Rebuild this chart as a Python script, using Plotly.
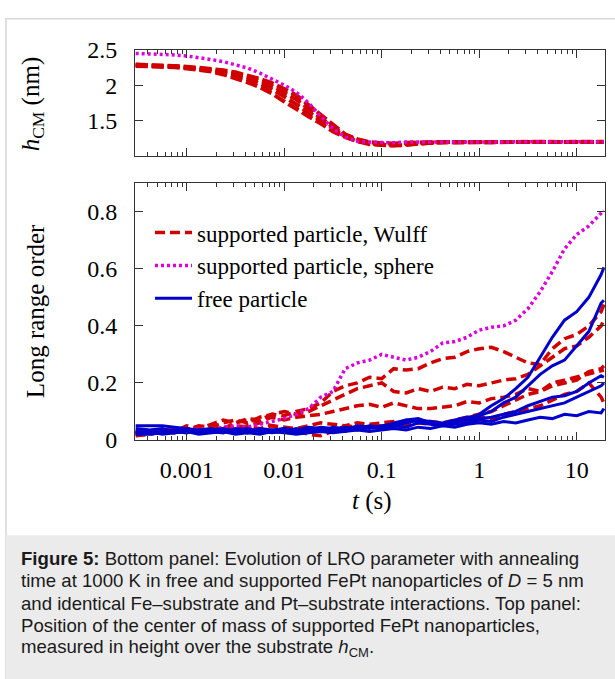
import plotly.graph_objects as go

# ---------------- data ----------------
t = [0.0003, 0.000422, 0.000562, 0.00075, 0.001, 0.00133, 0.00178, 0.00237, 0.00316, 0.00422,
     0.00562, 0.0075, 0.01, 0.0133, 0.0178, 0.0237, 0.0316, 0.0422, 0.0562, 0.075,
     0.1, 0.133, 0.178, 0.237, 0.316, 0.422, 0.562, 0.75, 1.0, 1.33,
     1.78, 2.37, 3.16, 4.22, 5.62, 7.5, 10.0, 13.3, 17.8, 19.0]

# top panel: h_CM (nm)
h_sphere = [2.445, 2.44, 2.435, 2.425, 2.41, 2.39, 2.36, 2.33, 2.29, 2.24, 2.17, 2.09, 2.0, 1.9, 1.75, 1.56,
            1.39, 1.27, 1.21, 1.2, 1.19, 1.19, 1.2, 1.2, 1.205, 1.2, 1.2, 1.205, 1.2, 1.2, 1.205, 1.2,
            1.2, 1.205, 1.2, 1.205, 1.2, 1.205, 1.205, 1.205]
h_wulff_a = [2.29, 2.285, 2.28, 2.27, 2.26, 2.245, 2.23, 2.21, 2.18, 2.14, 2.09, 2.03, 1.95, 1.86, 1.72, 1.58,
             1.44, 1.31, 1.24, 1.2, 1.185, 1.18, 1.19, 1.2, 1.2, 1.195, 1.2, 1.205, 1.2, 1.195, 1.2, 1.2,
             1.205, 1.2, 1.2, 1.205, 1.2, 1.205, 1.2, 1.2]
h_wulff_b = [2.285, 2.28, 2.275, 2.265, 2.25, 2.235, 2.215, 2.19, 2.16, 2.11, 2.06, 1.99, 1.9, 1.8, 1.67, 1.54,
             1.41, 1.3, 1.23, 1.19, 1.17, 1.165, 1.175, 1.19, 1.2, 1.2, 1.195, 1.2, 1.205, 1.2, 1.2, 1.195,
             1.2, 1.205, 1.2, 1.2, 1.205, 1.2, 1.205, 1.205]
h_wulff_c = [2.28, 2.275, 2.27, 2.26, 2.245, 2.225, 2.2, 2.17, 2.13, 2.08, 2.02, 1.94, 1.84, 1.73, 1.61, 1.5,
             1.38, 1.28, 1.21, 1.18, 1.16, 1.155, 1.165, 1.185, 1.195, 1.2, 1.2, 1.2, 1.195, 1.2, 1.205, 1.2,
             1.2, 1.2, 1.205, 1.2, 1.2, 1.205, 1.2, 1.2]
h_wulff_d = [2.27, 2.265, 2.26, 2.25, 2.235, 2.215, 2.19, 2.15, 2.1, 2.04, 1.97, 1.88, 1.77, 1.66, 1.56, 1.46,
             1.35, 1.27, 1.21, 1.17, 1.155, 1.15, 1.16, 1.18, 1.19, 1.2, 1.2, 1.195, 1.2, 1.2, 1.2, 1.205,
             1.2, 1.2, 1.2, 1.205, 1.2, 1.2, 1.205, 1.2]
h_wulff = [h_wulff_a, h_wulff_b, h_wulff_c, h_wulff_d]

# bottom panel: long range order
lro_sphere = [0.025, 0.03, 0.028, 0.035, 0.03, 0.04, 0.035, 0.045, 0.05, 0.045, 0.055, 0.065, 0.075, 0.09,
              0.11, 0.15, 0.17, 0.25, 0.27, 0.28, 0.30, 0.29, 0.28, 0.29, 0.31, 0.34, 0.345, 0.36, 0.385,
              0.395, 0.40, 0.42, 0.46, 0.52, 0.59, 0.67, 0.72, 0.75, 0.795, 0.805]
lro_wulff_1 = [0.02, 0.025, 0.03, 0.04, 0.035, 0.05, 0.045, 0.06, 0.07, 0.06, 0.08, 0.09, 0.085,
               0.1, 0.11, 0.13, 0.17, 0.19, 0.2, 0.22, 0.215, 0.25, 0.245, 0.25, 0.27, 0.285, 0.29, 0.31,
               0.32, 0.325, 0.31, 0.29, 0.27, 0.265, 0.32, 0.355, 0.37, 0.4, 0.45, 0.475]
lro_wulff_2 = [0.03, 0.02, 0.035, 0.03, 0.05, 0.04, 0.055, 0.07, 0.06, 0.075, 0.07, 0.09, 0.1,
               0.09, 0.1, 0.12, 0.14, 0.16, 0.18, 0.19, 0.2, 0.17, 0.165, 0.18, 0.17, 0.185, 0.18, 0.195,
               0.19, 0.2, 0.21, 0.215, 0.23, 0.26, 0.29, 0.32, 0.33, 0.36, 0.4, 0.42]
lro_wulff_3 = [0.02, 0.03, 0.025, 0.04, 0.03, 0.045, 0.05, 0.04, 0.06, 0.07, 0.065, 0.08, 0.07,
               0.08, 0.085, 0.09, 0.1, 0.11, 0.12, 0.125, 0.115, 0.13, 0.12, 0.11, 0.11, 0.115, 0.12, 0.135,
               0.13, 0.145, 0.15, 0.16, 0.18, 0.17, 0.19, 0.2, 0.21, 0.24, 0.25, 0.26]
lro_wulff_4 = [0.03, 0.035, 0.025, 0.03, 0.04, 0.035, 0.03, 0.045, 0.04, 0.05, 0.06, 0.05, 0.04,
               0.03, 0.02, 0.015, 0.03, 0.05, 0.06, 0.055, 0.06, 0.065, 0.06, 0.07, 0.065, 0.06, 0.07, 0.08,
               0.09, 0.1, 0.12, 0.14, 0.16, 0.17, 0.2, 0.21, 0.22, 0.23, 0.24, 0.245]
lro_wulff_5 = [0.015, 0.02, 0.03, 0.025, 0.035, 0.03, 0.04, 0.035, 0.05, 0.045, 0.04, 0.05, 0.045,
               0.04, 0.05, 0.06, 0.055, 0.05, 0.045, 0.04, 0.05, 0.045, 0.05, 0.06, 0.055, 0.05, 0.06, 0.07,
               0.08, 0.075, 0.09, 0.1, 0.11, 0.12, 0.14, 0.16, 0.17, 0.2, 0.15, 0.13]
lro_free_1 = [0.05, 0.05, 0.05, 0.045, 0.04, 0.035, 0.04, 0.03, 0.035, 0.04, 0.03, 0.035, 0.04,
              0.035, 0.045, 0.04, 0.035, 0.045, 0.04, 0.05, 0.045, 0.06, 0.07, 0.065, 0.06, 0.055, 0.06, 0.075,
              0.09, 0.12, 0.145, 0.18, 0.22, 0.29, 0.36, 0.42, 0.45, 0.5, 0.58, 0.605]
lro_free_2 = [0.03, 0.025, 0.03, 0.035, 0.04, 0.03, 0.035, 0.04, 0.03, 0.025, 0.035, 0.03, 0.04,
              0.03, 0.035, 0.045, 0.04, 0.035, 0.05, 0.045, 0.04, 0.05, 0.06, 0.07, 0.065, 0.06, 0.07, 0.08,
              0.085, 0.1, 0.13, 0.15, 0.19, 0.23, 0.26, 0.28, 0.33, 0.38, 0.48, 0.49]
lro_free_3 = [0.02, 0.02, 0.025, 0.03, 0.025, 0.035, 0.03, 0.025, 0.04, 0.035, 0.03, 0.025, 0.03,
              0.04, 0.03, 0.035, 0.04, 0.03, 0.045, 0.04, 0.05, 0.055, 0.07, 0.075, 0.06, 0.055, 0.065, 0.07,
              0.075, 0.08, 0.09, 0.1, 0.12, 0.135, 0.15, 0.155, 0.17, 0.2, 0.225, 0.22]
lro_free_4 = [0.04, 0.035, 0.04, 0.03, 0.035, 0.025, 0.03, 0.035, 0.025, 0.03, 0.04, 0.035, 0.03,
              0.025, 0.04, 0.03, 0.045, 0.04, 0.035, 0.045, 0.04, 0.05, 0.045, 0.06, 0.055, 0.05, 0.055, 0.06,
              0.07, 0.065, 0.08, 0.09, 0.1, 0.11, 0.12, 0.13, 0.15, 0.17, 0.19, 0.2]
lro_free_5 = [0.025, 0.03, 0.02, 0.025, 0.03, 0.02, 0.025, 0.03, 0.02, 0.025, 0.02, 0.03, 0.025,
              0.02, 0.025, 0.03, 0.025, 0.03, 0.035, 0.03, 0.035, 0.04, 0.035, 0.045, 0.04, 0.05, 0.045, 0.055,
              0.06, 0.055, 0.065, 0.06, 0.07, 0.08, 0.075, 0.09, 0.085, 0.1, 0.095, 0.11]
lro_wulff = [lro_wulff_1, lro_wulff_2, lro_wulff_3, lro_wulff_4, lro_wulff_5]
lro_free = [lro_free_1, lro_free_2, lro_free_3, lro_free_4, lro_free_5]

x_tick_vals = [0.001, 0.01, 0.1, 1, 10]
x_tick_text = ["0.001", "0.01", "0.1", "1", "10"]
top_y_ticks = [1.5, 2, 2.5]
top_y_text = ["1.5", "2", "2.5"]
bot_y_ticks = [0, 0.2, 0.4, 0.6, 0.8]
bot_y_text = ["0", "0.2", "0.4", "0.6", "0.8"]

names = ["supported particle, Wulff", "supported particle, sphere", "free particle"]

caption_lines = [
    "<b>Figure 5:</b> Bottom panel: Evolution of LRO parameter with annealing",
    "time at 1000 K in free and supported FePt nanoparticles of <i>D</i> = 5 nm",
    "and identical Fe–substrate and Pt–substrate interactions. Top panel:",
    "Position of the center of mass of supported FePt nanoparticles,",
    "measured in height over the substrate <i>h</i><sub>CM</sub>.",
]

# ---------------- style ----------------
W, H = 615, 679
RED, MAG, BLUE = "#d00000", "#dd00dd", "#0000cc"
SERIF = "Liberation Serif, Times New Roman, serif"
SANS = "Liberation Sans, Arial, sans-serif"

def px(x):
    return x / W

def py(y):
    return 1 - y / H

fig = go.Figure()

# top panel
for i, h in enumerate(h_wulff):
    fig.add_trace(go.Scatter(x=t, y=h, mode="lines", xaxis="x2", yaxis="y2", showlegend=False,
                             line=dict(color=RED, width=4, dash="12px,4px")))
fig.add_trace(go.Scatter(x=t, y=h_sphere, mode="lines", xaxis="x2", yaxis="y2", showlegend=False,
                         line=dict(color=MAG, width=3.5, dash="3px,3px")))

# bottom panel
for i, v in enumerate(lro_wulff):
    fig.add_trace(go.Scatter(x=t, y=v, mode="lines", name=names[0], showlegend=(i == 0),
                             line=dict(color=RED, width=3.5, dash="10px,5px")))
fig.add_trace(go.Scatter(x=t, y=lro_sphere, mode="lines", name=names[1],
                         line=dict(color=MAG, width=3.5, dash="3px,3px")))
for i, v in enumerate(lro_free):
    fig.add_trace(go.Scatter(x=t, y=v, mode="lines", name=names[2], showlegend=(i == 0),
                             line=dict(color=BLUE, width=3)))

minor_vals = [m * 10 ** e for e in range(-4, 2) for m in range(2, 10)]
xrange_log = [-3.53, 1.29]
frame = "#333333"
tickfont = dict(family=SERIF, size=24, color="black")

common_x = dict(type="log", range=xrange_log, domain=[px(135), px(605)], showgrid=False,
                zeroline=False, showline=True, linecolor=frame, linewidth=1, mirror="ticks",
                ticks="inside", ticklen=8, tickcolor=frame, tickmode="array",
                tickvals=x_tick_vals, ticktext=x_tick_text, tickfont=tickfont,
                minor=dict(ticks="inside", ticklen=4, tickcolor=frame, tickmode="array",
                           tickvals=minor_vals, showgrid=False))

fig.update_layout(
    width=W, height=H, autosize=False,
    margin=dict(l=0, r=0, t=0, b=0),
    paper_bgcolor="white", plot_bgcolor="white",
    xaxis=dict(common_x, anchor="y", ticklabelstandoff=8),
    xaxis2=dict(common_x, anchor="y2", showticklabels=False),
    yaxis=dict(domain=[py(444), py(177)], range=[0, 0.9], anchor="x", showgrid=False,
               zeroline=False, showline=True, linecolor=frame, linewidth=1, mirror="ticks",
               ticks="inside", ticklen=8, tickcolor=frame, tickmode="array",
               tickvals=bot_y_ticks, ticktext=bot_y_text, tickfont=tickfont, ticklabelstandoff=12),
    yaxis2=dict(domain=[py(149), py(38)], range=[1.0, 2.5], anchor="x2", showgrid=False,
                zeroline=False, showline=True, linecolor=frame, linewidth=1, mirror="ticks",
                ticks="inside", ticklen=8, tickcolor=frame, tickmode="array",
                tickvals=top_y_ticks, ticktext=top_y_text, tickfont=tickfont, ticklabelstandoff=12),
    legend=dict(x=px(150), y=py(206), xanchor="left", yanchor="top", bgcolor="rgba(0,0,0,0)",
                font=dict(family=SERIF, size=23, color="black"), traceorder="normal",
                itemwidth=37, tracegroupgap=0),
    showlegend=True,
)

# figure border and caption box
fig.add_shape(type="rect", xref="paper", yref="paper", x0=px(6), x1=px(640), y0=py(700), y1=py(6),
              line=dict(color="#d6d6d6", width=1.5), fillcolor="rgba(0,0,0,0)", layer="below")
fig.add_shape(type="rect", xref="paper", yref="paper", x0=px(6), x1=px(640), y0=py(700), y1=py(543),
              line=dict(width=0), fillcolor="#ebebeb", layer="below")

title_font = dict(family=SERIF, size=25, color="black")
fig.add_annotation(xref="paper", yref="paper", x=px(32), y=py(95), text="<i>h</i><sub>CM</sub> (nm)",
                   textangle=-90, showarrow=False, font=title_font, xanchor="center", yanchor="middle")
fig.add_annotation(xref="paper", yref="paper", x=px(35), y=py(310), text="Long range order",
                   textangle=-90, showarrow=False, font=title_font, xanchor="center", yanchor="middle")
fig.add_annotation(xref="paper", yref="paper", x=px(372), y=py(507), text="<i>t</i> (s)",
                   showarrow=False, font=title_font, xanchor="center", yanchor="middle")

for k, line in enumerate(caption_lines):
    fig.add_annotation(xref="paper", yref="paper", x=px(19), y=py(567.5 + 23.1 * k), text=line,
                       align="left", showarrow=False, xanchor="left", yanchor="middle",
                       font=dict(family=SANS, size=18.6, color="#1a1a1a"))

fig.write_html("out.html", config={"displayModeBar": False},
               post_script="document.body.style.margin='0';")
